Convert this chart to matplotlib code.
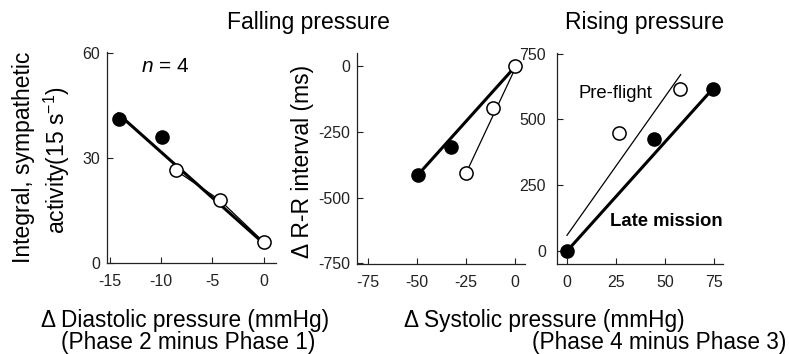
import matplotlib
matplotlib.use("Agg")
import matplotlib.pyplot as plt

plt.rcParams['font.family'] = ['Liberation Sans', 'DejaVu Sans']
plt.rcParams['mathtext.fontset'] = 'custom'
plt.rcParams['mathtext.rm'] = 'Liberation Sans'
plt.rcParams['mathtext.it'] = 'Liberation Sans:italic'
plt.rcParams['axes.unicode_minus'] = False

# ---- Data ----
# Panel 1: sympathetic activity vs diastolic pressure (falling)
p1_filled_x = [-14.1, -9.9]
p1_filled_y = [41.1, 36.0]
p1_open_x = [-8.6, -4.3, 0.0]
p1_open_y = [26.5, 18.0, 6.0]
p1_thick_x = [-14.2, 0.0]
p1_thick_y = [42.6, 5.6]

# Panel 2: R-R interval vs systolic pressure (falling)
p2_filled_x = [-49.5, -32.5]
p2_filled_y = [-413, -308]
p2_open_x = [-25.0, -11.2, 0.0]
p2_open_y = [-407, -160, 0]
p2_thick_x = [-49.5, -1.5]
p2_thick_y = [-413, -15]
p2_thin_x = [-25.0, 0.0]
p2_thin_y = [-407, -10]

# Panel 3: R-R interval vs systolic pressure (rising)
p3_filled_x = [0.0, 44.4, 74.5]
p3_filled_y = [0, 424, 617]
p3_open_x = [26.5, 57.7]
p3_open_y = [447, 617]
p3_thin_x = [0.0, 58.0]
p3_thin_y = [60, 670]
p3_thick_x = [0.0, 74.5]
p3_thick_y = [0, 617]

p1_xticks = [-15, -10, -5, 0]
p1_yticks = [0, 30, 60]
p2_xticks = [-75, -50, -25, 0]
p2_yticks = [-750, -500, -250, 0]
p3_xticks = [0, 25, 50, 75]
p3_yticks = [0, 250, 500, 750]

W, H = 789, 354
fig = plt.figure(figsize=(W / 100, H / 100), dpi=100)


def ax_at(left, right, top, bottom):
    return fig.add_axes([left / W, 1 - bottom / H, (right - left) / W, (bottom - top) / H])


ax1 = ax_at(107, 276, 52, 263)
ax2 = ax_at(357, 525, 53, 264)
ax3 = ax_at(557, 723, 53, 264)

MS = 9.5
THICK = 2.2
THIN = 0.9

for ax in (ax1, ax2, ax3):
    for s in ('top', 'right'):
        ax.spines[s].set_visible(False)
    for s in ('left', 'bottom'):
        ax.spines[s].set_linewidth(0.9)
        ax.spines[s].set_color('#222222')
    ax.tick_params(direction='in', length=4, width=0.8, labelsize=11.5,
                   colors='#222222')
    ax.tick_params(axis='x', pad=8)
    ax.tick_params(axis='y', pad=5)


def draw(ax, fx, fy, ox, oy):
    ax.plot(fx, fy, 'o', ms=MS, mfc='black', mec='black', zorder=5)
    ax.plot(ox, oy, 'o', ms=MS, mfc='white', mec='black', mew=1.1, zorder=5)


# Panel 1
ax1.plot(p1_open_x, p1_open_y, '-', color='black', lw=THIN, zorder=3)
ax1.plot(p1_thick_x, p1_thick_y, '-', color='black', lw=THICK, zorder=3)
draw(ax1, p1_filled_x, p1_filled_y, p1_open_x, p1_open_y)
ax1.set_xlim(-15.3, 1.2)
ax1.set_ylim(0, 60.3)
ax1.set_xticks(p1_xticks)
ax1.set_yticks(p1_yticks)
ax1.text(0.2, 0.93, '$n$ = 4', transform=ax1.transAxes, fontsize=15,
         ha='left', va='center')

# Panel 2
ax2.plot(p2_thin_x, p2_thin_y, '-', color='black', lw=THIN, zorder=3)
ax2.plot(p2_thick_x, p2_thick_y, '-', color='black', lw=THICK, zorder=3)
draw(ax2, p2_filled_x, p2_filled_y, p2_open_x, p2_open_y)
ax2.set_xlim(-80.6, 5.1)
ax2.set_ylim(-752, 50)
ax2.set_xticks(p2_xticks)
ax2.set_yticks(p2_yticks)

# Panel 3
ax3.plot(p3_thin_x, p3_thin_y, '-', color='black', lw=THIN, zorder=3)
ax3.plot(p3_thick_x, p3_thick_y, '-', color='black', lw=THICK, zorder=3)
draw(ax3, p3_filled_x, p3_filled_y, p3_open_x, p3_open_y)
ax3.set_xlim(-5.1, 79.6)
ax3.set_ylim(-49, 752)
ax3.set_xticks(p3_xticks)
ax3.set_yticks(p3_yticks)
ax3.tick_params(axis='y', pad=8)
fig.text(578 / W, 1 - 93 / H, 'Pre-flight', fontsize=13.3, ha='left', va='center')
fig.text(610 / W, 1 - 222 / H, 'Late mission', fontsize=13.3, fontweight='bold',
         ha='left', va='center')

# Titles
fig.text(308 / W, 1 - 23 / H, 'Falling pressure', fontsize=16.5, ha='center', va='center')
fig.text(645 / W, 1 - 23 / H, 'Rising pressure', fontsize=16.5, ha='center', va='center')

# Y labels
fig.text(24 / W, 1 - 157 / H, 'Integral, sympathetic', fontsize=16.5, rotation=90,
         ha='center', va='center')
fig.text(57 / W, 1 - 160 / H, 'activity(15 s$^{-1}$)', fontsize=16.5, rotation=90,
         ha='center', va='center')
fig.text(302 / W, 1 - 161 / H, '\u0394 R-R interval (ms)', fontsize=16.5, rotation=90,
         ha='center', va='center')

# X labels
fig.text(185 / W, 1 - 321 / H, '\u0394 Diastolic pressure (mmHg)', fontsize=16.3,
         ha='center', va='center')
fig.text(188 / W, 1 - 342 / H, '(Phase 2 minus Phase 1)', fontsize=16.3,
         ha='center', va='center')
fig.text(404 / W, 1 - 321 / H, '\u0394 Systolic pressure (mmHg)', fontsize=16.3,
         ha='left', va='center')
fig.text(786 / W, 1 - 342 / H, '(Phase 4 minus Phase 3)', fontsize=16.3,
         ha='right', va='center')

fig.savefig('out.png', dpi=100)
